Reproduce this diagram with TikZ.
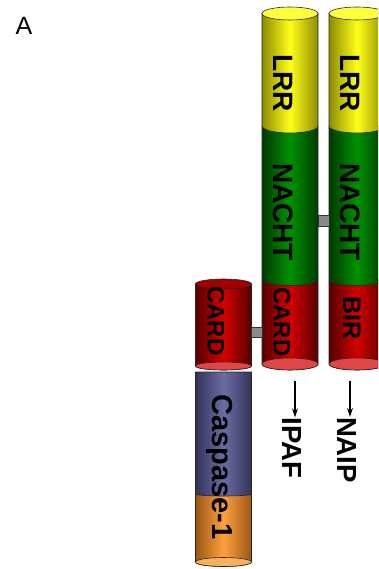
\documentclass[tikz,border=0pt]{standalone}
\usepackage{fontspec}
\setmainfont{Liberation Sans}
\usetikzlibrary{arrows.meta}

% domain colours (dark rim / bright core / end cap)
\definecolor{lrrdark}{HTML}{8C8C00}
\definecolor{lrrlight}{HTML}{FFFF1A}
\definecolor{lrrcap}{HTML}{FFFF3C}
\definecolor{nachtdark}{HTML}{003A00}
\definecolor{nachtlight}{HTML}{009000}
\definecolor{carddark}{HTML}{560000}
\definecolor{cardlight}{HTML}{D40000}
\definecolor{cardcap}{HTML}{E04646}
\definecolor{cardtop}{HTML}{A00000}
\definecolor{caspdark}{HTML}{33335A}
\definecolor{casplight}{HTML}{6C6CA6}
\definecolor{p10dark}{HTML}{9A5814}
\definecolor{p10light}{HTML}{FFA040}
\definecolor{p10cap}{HTML}{F8B060}
\definecolor{linkgray}{HTML}{8A8A8A}

\tikzset{
  segline/.style={draw=black!85, line width=0.6pt},
  domlabel/.style={rotate=-90, inner sep=0pt, text=black, font=\bfseries\fontsize{#1}{#1}\selectfont},
  domlabel/.default=28,
  linkbox/.style={draw=black!80, fill=linkgray, line width=0.5pt, inner sep=0pt,
                  minimum width=11pt, minimum height=11pt},
  pointer/.style={-{Stealth[length=9pt,width=6pt]}, line width=1.3pt},
}

% body of one cylinder segment: centre x, top y, bottom y, bottom-arc radius, rim, core
\newcommand{\cylseg}[6]{%
  \path[segline, left color=#5, right color=#5, middle color=#6]
    ({#1-28},{-#2}) -- ({#1-28},{-#3})
    arc[start angle=180, end angle=360, x radius=28, y radius=#4]
    -- ({#1+28},{-#2}) -- cycle;}
% end cap of a cylinder: centre x, y, radius, fill
\newcommand{\cylcap}[4]{%
  \path[segline, fill=#4] (#1,{-#2}) ellipse[x radius=28, y radius=#3];}

\begin{document}
\begin{tikzpicture}[x=1pt, y=1pt]
  \clip (0,0) rectangle (378,-569);
  \fill[white] (0,0) rectangle (378,-569);

  % panel letter
  \node[inner sep=0pt, font=\fontsize{25}{25}\selectfont] (panel) at (24,-26) {A};

  % IPAF column: LRR / NACHT / CARD
  \cylseg{290}{280}{364}{6}{carddark}{cardlight}
  \cylcap{290}{364}{6}{cardcap}
  \cylseg{290}{126}{280}{5.5}{nachtdark}{nachtlight}
  \cylseg{290}{13.5}{126}{7}{lrrdark}{lrrlight}
  \cylcap{290}{13.5}{6.5}{lrrcap}

  % NAIP column: LRR / NACHT / BIR
  \cylseg{357}{280}{364}{6}{carddark}{cardlight}
  \cylcap{357}{364}{6}{cardcap}
  \cylseg{357}{126}{280}{5.5}{nachtdark}{nachtlight}
  \cylseg{357}{13.5}{126}{7}{lrrdark}{lrrlight}
  \cylcap{357}{13.5}{6.5}{lrrcap}

  % caspase-1 column: CARD above the catalytic part
  \cylseg{223.5}{494}{562}{4.5}{p10dark}{p10light}
  \cylcap{223.5}{562}{4.5}{p10cap}
  \cylseg{223.5}{372}{494}{2}{caspdark}{casplight}
  \cylseg{223.5}{284}{366}{4}{carddark}{cardlight}
  \cylcap{223.5}{366}{4}{cardcap}
  \cylcap{223.5}{284}{5}{cardtop}

  % links between domains
  \node[linkbox] (nachtlink) at (323.5,-220.5) {};
  \node[linkbox, minimum width=11pt, minimum height=10pt] (cardlink) at (257,-332) {};

  % domain names
  \node[domlabel] (lrr1)   at (283,-83)  {LRR};
  \node[domlabel] (lrr2)   at (350,-83)  {LRR};
  \node[domlabel] (nacht1) at (283,-212) {NACHT};
  \node[domlabel] (nacht2) at (350,-212) {NACHT};
  \node[domlabel=24] (card1) at (282,-322) {CARD};
  \node[domlabel=24] (card0) at (216,-321) {CARD};
  \node[domlabel=25] (bir)   at (352,-318) {BIR};
  \node[domlabel=29] (casp)  at (220,-467) {Caspase-1};

  % protein names with pointers
  \node[domlabel=27.6] (ipaf) at (292,-448) {IPAF};
  \node[domlabel=27.6] (naip) at (347,-450) {NAIP};
  \coordinate (ipafsrc) at (295,-381);
  \coordinate (naipsrc) at (350,-381);
  \draw[pointer] (ipafsrc) -- (ipafsrc |- ipaf.west);
  \draw[pointer] (naipsrc) -- (naipsrc |- naip.west);
\end{tikzpicture}
\end{document}
